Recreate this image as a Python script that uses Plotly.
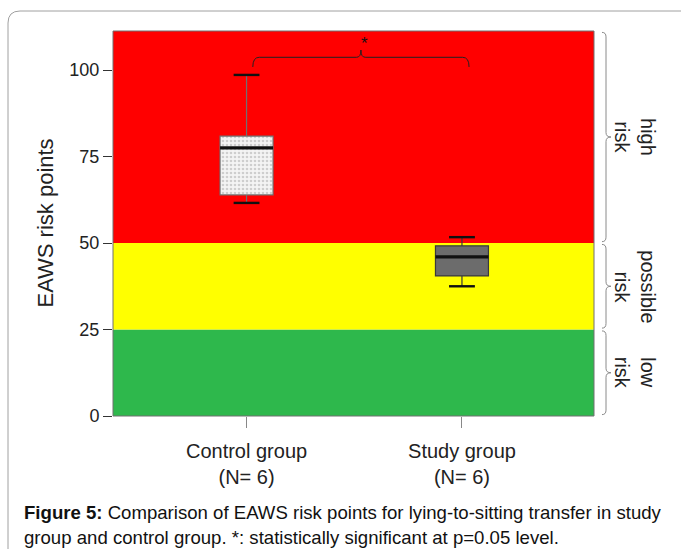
import plotly.graph_objects as go

# Box-plot summary statistics per group (EAWS risk points)
groups = ["Control group", "Study group"]
group_n = [6, 6]
upper_whisker = [98.6, 51.7]
q3 = [80.9, 49.2]
median = [77.5, 46.0]
q1 = [63.9, 40.5]
lower_whisker = [61.6, 37.5]

# Risk zones
zone_bounds = [0, 25, 50]
zone_names = ["low<br>risk", "possible<br>risk", "high<br>risk"]
zone_colors = ["rgb(46,184,76)", "rgb(255,255,0)", "rgb(255,0,0)"]

y_tick_vals = [0, 25, 50, 75, 100]
y_max = 111.3

W, H = 681, 549
ML, MR, MT, MB = 113, 87, 31, 133
PW, PH = W - ML - MR, H - MT - MB
FONT = "Liberation Sans, Arial, sans-serif"


def px_x(px):
    return (px - ML) / PW


def px_y(py):
    return (H - MB - py) / PH


x_pos = list(range(len(groups)))
box_w = 0.246
cap_half = 0.06

fig = go.Figure()

# stippled fill for the control box
fig.add_trace(go.Bar(
    x=[x_pos[0]], base=[q1[0]], y=[q3[0] - q1[0]], width=box_w,
    marker=dict(color="#f2f2f2",
                pattern=dict(shape=".", fgcolor="#a8a8a8", bgcolor="#f4f4f4",
                             size=4, solidity=0.35),
                line=dict(width=0)),
    showlegend=False, hoverinfo="skip"))

box_fills = ["rgba(0,0,0,0)", "rgb(108,108,108)"]
box_lines = ["#707070", "#3a3a3a"]
for i in range(len(groups)):
    fig.add_trace(go.Box(
        x=[x_pos[i]], q1=[q1[i]], median=[median[i]], q3=[q3[i]],
        lowerfence=[lower_whisker[i]], upperfence=[upper_whisker[i]],
        width=box_w, whiskerwidth=0.01, fillcolor=box_fills[i],
        line=dict(color=box_lines[i], width=1.2),
        boxpoints=False, showlegend=False, hoverinfo="skip"))

# thick medians and whisker caps
med_x, med_y, cap_x, cap_y = [], [], [], []
for i in range(len(groups)):
    med_x += [x_pos[i] - box_w / 2, x_pos[i] + box_w / 2, None]
    med_y += [median[i], median[i], None]
    for v in (upper_whisker[i], lower_whisker[i]):
        cap_x += [x_pos[i] - cap_half, x_pos[i] + cap_half, None]
        cap_y += [v, v, None]
fig.add_trace(go.Scatter(x=med_x, y=med_y, mode="lines",
                         line=dict(color="#111", width=3.2),
                         showlegend=False, hoverinfo="skip"))
fig.add_trace(go.Scatter(x=cap_x, y=cap_y, mode="lines",
                         line=dict(color="#111", width=2.4),
                         showlegend=False, hoverinfo="skip"))

shapes = []
annotations = []

# coloured risk zones behind the data
zone_tops = zone_bounds[1:] + [y_max]
for lo, hi, col in zip(zone_bounds, zone_tops, zone_colors):
    shapes.append(dict(type="rect", xref="paper", yref="y", x0=0, x1=1,
                       y0=lo, y1=hi, fillcolor=col, line=dict(width=0),
                       layer="below"))
# plot frame
shapes.append(dict(type="rect", xref="paper", yref="paper", x0=0, x1=1,
                   y0=0, y1=1, line=dict(color="#707070", width=1)))

# curly braces with zone labels on the right
bx0, bx1, bx2 = px_x(602), px_x(606), px_x(611)
for lo, hi, name in zip(zone_bounds, zone_tops, zone_names):
    top, bot = hi - 0.4, lo + 0.4
    mid = (top + bot) / 2
    d = 1.3
    path = (f"M {bx0},{top} Q {bx1},{top} {bx1},{top - d} "
            f"L {bx1},{mid + d} Q {bx1},{mid} {bx2},{mid} "
            f"Q {bx1},{mid} {bx1},{mid - d} "
            f"L {bx1},{bot + d} Q {bx1},{bot} {bx0},{bot}")
    shapes.append(dict(type="path", xref="paper", yref="y", path=path,
                       line=dict(color="#8a8a8a", width=1)))
    annotations.append(dict(x=px_x(635), y=mid, xref="paper", yref="y",
                            text=name, textangle=90, showarrow=False,
                            xanchor="center", yanchor="middle",
                            font=dict(family=FONT, size=20, color="#222")))

# significance bracket between the groups
sx0, sx1 = 0.029, 1.033
sxc = (sx0 + sx1) / 2
sy, sye, syt = 103.7, 100.9, 105.8
path = (f"M {sx0},{sye} Q {sx0},{sy} {sx0 + 0.03},{sy} "
        f"L {sxc - 0.02},{sy} Q {sxc},{sy} {sxc},{syt} "
        f"Q {sxc},{sy} {sxc + 0.02},{sy} "
        f"L {sx1 - 0.03},{sy} Q {sx1},{sy} {sx1},{sye}")
shapes.append(dict(type="path", xref="x", yref="y", path=path,
                   line=dict(color="#222", width=1)))
annotations.append(dict(x=sxc + 0.015, y=107.8, xref="x", yref="y", text="*",
                        showarrow=False, font=dict(family=FONT, size=17,
                                                   color="#111")))

# y-axis title
annotations.append(dict(x=px_x(45), y=0.5, xref="paper", yref="paper",
                        text="EAWS risk points", textangle=-90,
                        showarrow=False, xanchor="center", yanchor="middle",
                        font=dict(family=FONT, size=22, color="#222")))

# caption
annotations.append(dict(
    x=px_x(22), y=px_y(512), xref="paper", yref="paper", xanchor="left",
    yanchor="middle", showarrow=False, align="left",
    text="<b>Figure 5:</b> Comparison of EAWS risk points for lying-to-sitting "
         "transfer in study",
    font=dict(family=FONT, size=18.6, color="#111")))
annotations.append(dict(
    x=px_x(22), y=px_y(537), xref="paper", yref="paper", xanchor="left",
    yanchor="middle", showarrow=False, align="left",
    text="group and control group. *: statistically significant at p=0.05 level.",
    font=dict(family=FONT, size=18.6, color="#111")))

# rounded figure border
r = 12
fx0, fy0 = px_x(8), px_y(11)
fxr, fyr = px_x(8 + r), px_y(11 + r)
path = (f"M {px_x(W + 20)},{fy0} L {fxr},{fy0} Q {fx0},{fy0} {fx0},{fyr} "
        f"L {fx0},{px_y(H + 20)}")
shapes.append(dict(type="path", xref="paper", yref="paper", path=path,
                   line=dict(color="#a0a0a0", width=1)))

tick_text = [f"{g}<br>(N= {n})" for g, n in zip(groups, group_n)]

fig.update_layout(
    width=W, height=H,
    margin=dict(l=ML, r=MR, t=MT, b=MB),
    paper_bgcolor="white", plot_bgcolor="white",
    shapes=shapes, annotations=annotations,
    font=dict(family=FONT, color="#222"),
    xaxis=dict(range=[-0.62, 1.613], tickvals=x_pos, ticktext=tick_text,
               ticks="outside", ticklen=11, tickcolor="#888",
               tickfont=dict(family=FONT, size=20, color="#222"),
               ticklabelstandoff=6,
               showgrid=False, zeroline=False, showline=False, fixedrange=True),
    yaxis=dict(range=[0, y_max], tickvals=y_tick_vals, ticks="outside",
               ticklen=9, tickcolor="#333", tickwidth=1.2,
               tickfont=dict(family=FONT, size=18, color="#222"),
               showgrid=False, zeroline=False, showline=False, fixedrange=True),
    bargap=0,
)

fig.write_html("out.html")
